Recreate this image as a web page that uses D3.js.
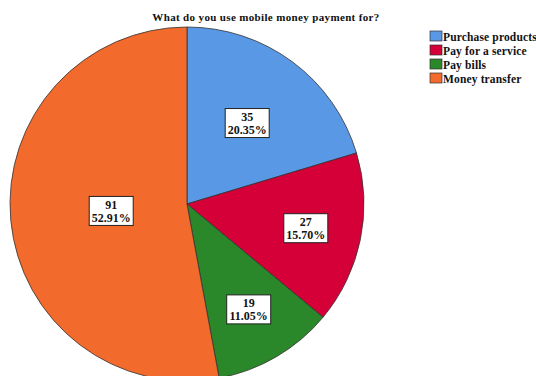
<!DOCTYPE html>
<html>
<head>
<meta charset="utf-8">
<script src="https://cdn.jsdelivr.net/npm/d3@7"></script>
<style>
  html, body { margin: 0; padding: 0; background: #fff; }
  svg { display: block; font-family: "Liberation Serif", "DejaVu Serif", serif; }
</style>
</head>
<body>
<svg id="chart" width="536" height="376"></svg>
<script>
// data
const categories = ['Purchase products', 'Pay for a service', 'Pay bills', 'Money transfer'];
const counts = [35, 27, 19, 91];
const percents = ['20.35%', '15.70%', '11.05%', '52.91%'];
const colors = ['#5898e5', '#d50037', '#2a872a', '#f26a2c'];
// label distance from centre, as a fraction of radius (SPSS places them unevenly)
const labelRadius = [0.57, 0.685, 0.69, 0.43];

const W = 536, H = 376;
const cx = 187, cy = 204, R = 177;
const svg = d3.select('#chart');

svg.append('text')
  .attr('x', 266).attr('y', 21)
  .attr('text-anchor', 'middle')
  .attr('font-size', 11).attr('font-weight', 'bold')
  .attr('letter-spacing', 0.35)
  .attr('fill', '#111')
  .text('What do you use mobile money payment for?');

const pie = d3.pie().sort(null).value(d => d);
const arcs = pie(counts);
const arc = d3.arc().innerRadius(0).outerRadius(R);

const g = svg.append('g').attr('transform', `translate(${cx},${cy})`);
g.selectAll('path').data(arcs).enter().append('path')
  .attr('d', arc)
  .attr('fill', (d, i) => colors[i])
  .attr('stroke', '#333').attr('stroke-width', 0.8);

// value labels in white boxes
arcs.forEach((d, i) => {
  const a = (d.startAngle + d.endAngle) / 2;
  const r = R * labelRadius[i];
  const x = Math.sin(a) * r, y = -Math.cos(a) * r;
  const lg = g.append('g').attr('transform', `translate(${x},${y})`);
  lg.append('rect')
    .attr('x', -22).attr('y', -14.5).attr('width', 44).attr('height', 29)
    .attr('fill', '#fff').attr('stroke', '#222').attr('stroke-width', 1);
  lg.append('text').attr('y', -2).attr('text-anchor', 'middle')
    .attr('font-size', 12).attr('font-weight', 'bold').attr('fill', '#111')
    .text(counts[i]);
  lg.append('text').attr('y', 11).attr('text-anchor', 'middle')
    .attr('font-size', 12).attr('font-weight', 'bold').attr('fill', '#111')
    .text(percents[i]);
});

// legend
const leg = svg.append('g').attr('transform', 'translate(430,31)');
categories.forEach((c, i) => {
  const row = leg.append('g').attr('transform', `translate(0,${i * 14})`);
  row.append('rect').attr('x', 0).attr('y', 0).attr('width', 12).attr('height', 10)
    .attr('fill', colors[i]).attr('stroke', '#333').attr('stroke-width', 0.7);
  row.append('text').attr('x', 13).attr('y', 9.5)
    .attr('font-size', 11.5).attr('font-weight', 'bold').attr('fill', '#111')
    .attr('letter-spacing', 0.15)
    .text(c);
});
</script>
</body>
</html>
